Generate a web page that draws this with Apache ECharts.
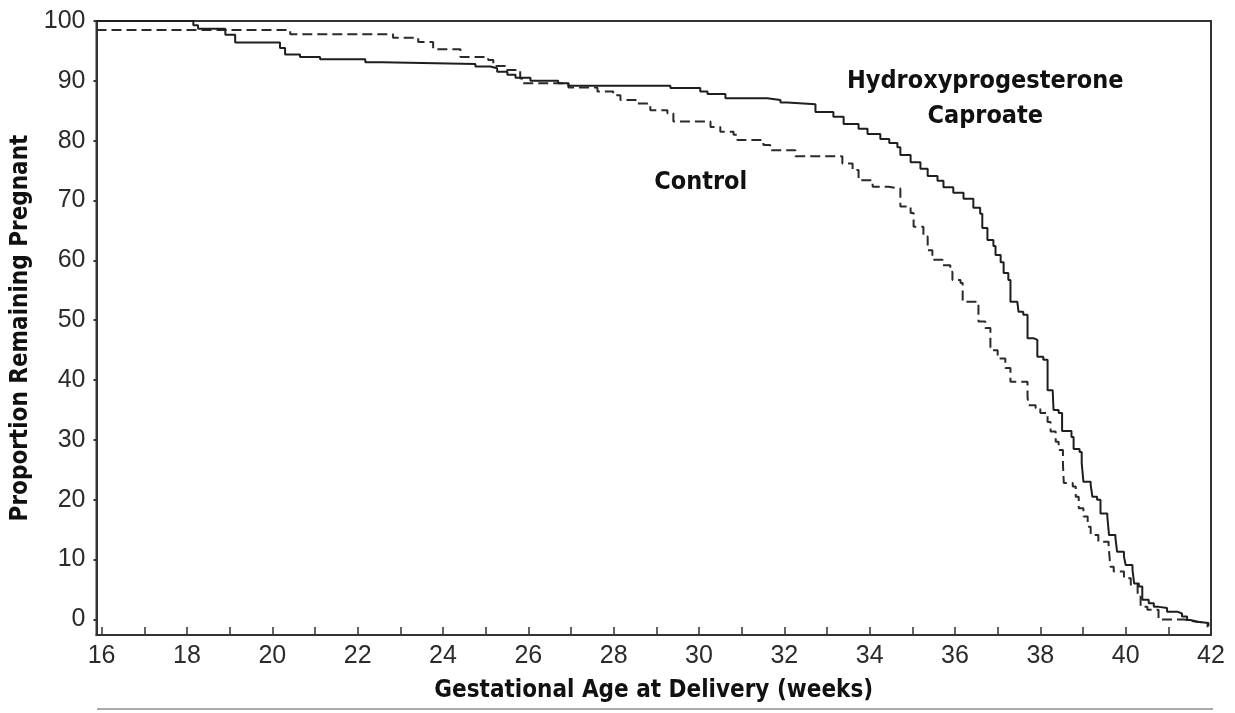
<!DOCTYPE html>
<html>
<head>
<meta charset="utf-8">
<script src="https://cdn.jsdelivr.net/npm/echarts@6/dist/echarts.min.js"></script>
<style>
    html, body { margin: 0; padding: 0; background: #fff; }
    #chart { width: 1235px; height: 713px; }
</style>
</head>
<body>
<div id="chart"></div>
<script>
    // Kaplan-Meier style step curves
    // each pair = week where the step happens, proportion after the step
    var treatmentWeeks = [15.88, 18.15, 18.26, 18.90, 19.13, 20.18, 20.30, 20.65, 21.12, 22.18, 22.58, 24.76, 25.11, 25.27, 25.51, 25.70, 26.05, 26.70, 26.94, 29.33, 30.03, 30.20, 30.62, 31.60, 31.91, 32.07, 32.73, 33.15, 33.39, 33.74, 33.95, 34.25, 34.46, 34.65, 34.72, 34.96, 35.19, 35.36, 35.59, 35.73, 35.96, 36.20, 36.43, 36.59, 36.64, 36.76, 36.90, 36.95, 37.07, 37.14, 37.25, 37.30, 37.46, 37.49, 37.60, 37.70, 37.84, 37.93, 38.07, 38.17, 38.29, 38.31, 38.43, 38.51, 38.73, 38.78, 38.92, 38.97, 39.01, 39.18, 39.22, 39.33, 39.41, 39.57, 39.61, 39.76, 39.80, 39.96, 40.00, 40.16, 40.20, 40.31, 40.39, 40.54, 40.66, 40.78, 40.97, 41.21, 41.32, 41.44, 41.52, 41.68, 41.94];
    var treatmentValues = [100, 99.3, 98.7, 97.7, 96.4, 95.5, 94.4, 94.0, 93.6, 93.1, 92.8, 92.4, 92.1, 91.5, 91.0, 90.5, 90.0, 89.6, 89.2, 88.8, 88.2, 87.8, 87.1, 86.8, 86.4, 86.1, 84.8, 84.0, 82.8, 82.0, 81.1, 80.3, 79.6, 78.9, 77.6, 76.4, 75.3, 74.1, 73.3, 72.2, 71.3, 70.3, 68.8, 67.8, 65.4, 63.4, 62.4, 60.9, 59.7, 57.9, 56.7, 53.1, 52.8, 51.4, 50.9, 47.0, 46.7, 43.9, 43.4, 38.3, 38.1, 35.0, 34.5, 31.5, 30.5, 28.5, 28.0, 26.1, 23.0, 22.5, 20.5, 20.0, 17.7, 17.2, 14.1, 13.6, 11.3, 10.5, 9.1, 8.3, 6.0, 5.5, 3.3, 2.7, 2.1, 1.9, 1.3, 1.0, 0.5, -0.1, -0.4, -0.6, -1.1];

    var controlWeeks = [15.88, 20.42, 22.83, 23.42, 23.77, 24.41, 25.06, 25.18, 25.46, 25.81, 25.88, 26.94, 27.62, 27.99, 28.16, 28.55, 28.86, 29.26, 29.40, 30.27, 30.50, 30.81, 30.90, 31.51, 31.67, 32.26, 33.36, 33.60, 33.74, 34.07, 34.44, 34.72, 34.96, 35.03, 35.26, 35.36, 35.47, 35.71, 35.89, 35.94, 36.13, 36.18, 36.55, 36.71, 36.83, 37.00, 37.18, 37.30, 37.70, 37.72, 37.89, 38.00, 38.17, 38.24, 38.36, 38.43, 38.53, 38.55, 38.76, 38.83, 38.90, 39.01, 39.11, 39.18, 39.36, 39.60, 39.64, 39.72, 39.96, 40.12, 40.28, 40.35, 40.51, 40.77, 41.36, 41.59, 41.92];
    var controlValues = [98.5, 97.8, 97.2, 96.5, 95.3, 94.0, 93.5, 92.5, 91.8, 90.4, 89.6, 88.9, 88.2, 87.6, 86.8, 86.2, 85.1, 84.6, 83.2, 82.3, 81.5, 81.0, 80.1, 79.3, 78.4, 77.4, 76.2, 75.1, 73.4, 72.3, 72.0, 69.0, 67.9, 65.6, 64.0, 61.7, 60.1, 59.2, 58.1, 56.7, 56.2, 53.1, 49.8, 48.7, 45.0, 43.6, 42.0, 39.7, 37.2, 35.8, 35.3, 34.5, 33.0, 31.4, 29.7, 28.3, 26.0, 22.8, 22.2, 20.5, 18.6, 17.2, 15.5, 14.1, 13.0, 12.4, 8.8, 8.0, 6.9, 5.8, 4.1, 2.1, 1.6, 0.0, -0.3, -0.6, -1.3];

    var xTickValues = [16, 17, 18, 19, 20, 21, 22, 23, 24, 25, 26, 27, 28, 29, 30, 31, 32, 33, 34, 35, 36, 37, 38, 39, 40, 41, 42];
    var xLabelValues = [16, 18, 20, 22, 24, 26, 28, 30, 32, 34, 36, 38, 40, 42];
    var yLabelValues = [0, 10, 20, 30, 40, 50, 60, 70, 80, 90, 100];

    // in-plot labels (placed in data coordinates)
    var annotations = [
        {text: "Hydroxyprogesterone\nCaproate", week: 36.71, value: 87.0},
        {text: "Control", week: 30.04, value: 73.0}
    ];

    function zip(xs, ys) {
        var out = [];
        for (var i = 0; i < xs.length; i++) out.push([xs[i], ys[i]]);
        return out;
    }

    var titleFont = "'Liberation Sans Narrow', 'DejaVu Sans Condensed', sans-serif";
    var labelFont = "'Liberation Sans', Arial, sans-serif";

    var chart = echarts.init(document.getElementById("chart"));
    chart.setOption({
        animation: false,
        backgroundColor: "#fff",
        grid: {
            left: 96.5,
            right: 24,
            top: 21,
            bottom: 78,
            show: true,
            borderColor: "#333",
            borderWidth: 2,
            outerBoundsMode: "none"
        },
        xAxis: {
            type: "value",
            min: 15.88,
            max: 42,
            name: "Gestational Age at Delivery (weeks)",
            nameLocation: "middle",
            nameGap: 44,
            nameTextStyle: {fontFamily: titleFont, fontWeight: "bold", fontSize: 24, color: "#111"},
            axisLine: {onZero: false, lineStyle: {color: "#333", width: 2}},
            axisTick: {inside: true, length: 8, customValues: xTickValues, lineStyle: {color: "#333", width: 1.5}},
            axisLabel: {customValues: xLabelValues, margin: 9, fontFamily: labelFont, fontSize: 25, color: "#2b2b2b"},
            splitLine: {show: false}
        },
        yAxis: {
            type: "value",
            min: -2.6,
            max: 100,
            name: "Proportion Remaining Pregnant",
            nameLocation: "middle",
            nameGap: 57,
            nameTextStyle: {fontFamily: titleFont, fontWeight: "bold", fontSize: 24, color: "#111"},
            axisLine: {show: true, onZero: false, lineStyle: {color: "#333", width: 2}},
            axisTick: {show: true, length: 3, customValues: yLabelValues, lineStyle: {color: "#333", width: 2}},
            axisLabel: {customValues: yLabelValues, margin: 11, fontFamily: labelFont, fontSize: 25, color: "#2b2b2b"},
            splitLine: {show: false}
        },
        graphic: [{
            // thin rule under the axis title
            type: "line",
            shape: {x1: 97, y1: 709, x2: 1213, y2: 709},
            style: {stroke: "#aaa", lineWidth: 2}
        }],
        series: [
            {
                name: "Hydroxyprogesterone Caproate",
                type: "line",
                step: "end",
                symbol: "none",
                data: zip(treatmentWeeks, treatmentValues),
                lineStyle: {color: "#1e1e1e", width: 2},
                z: 3
            },
            {
                name: "Control",
                type: "line",
                step: "end",
                symbol: "none",
                data: zip(controlWeeks, controlValues),
                lineStyle: {color: "#2a2a2a", width: 2, type: [10, 5]},
                z: 2
            },
            {
                type: "scatter",
                symbolSize: 0,
                silent: true,
                itemStyle: {opacity: 1},
                data: annotations.map(function (a) { return {value: [a.week, a.value], name: a.text}; }),
                label: {
                    show: true,
                    position: "inside",
                    formatter: function (p) { return p.name; },
                    fontFamily: titleFont,
                    fontWeight: "bold",
                    fontSize: 25,
                    lineHeight: 35,
                    align: "center",
                    color: "#111",
                    opacity: 1,
                    textBorderWidth: 0
                }
            }
        ]
    });
</script>
</body>
</html>
